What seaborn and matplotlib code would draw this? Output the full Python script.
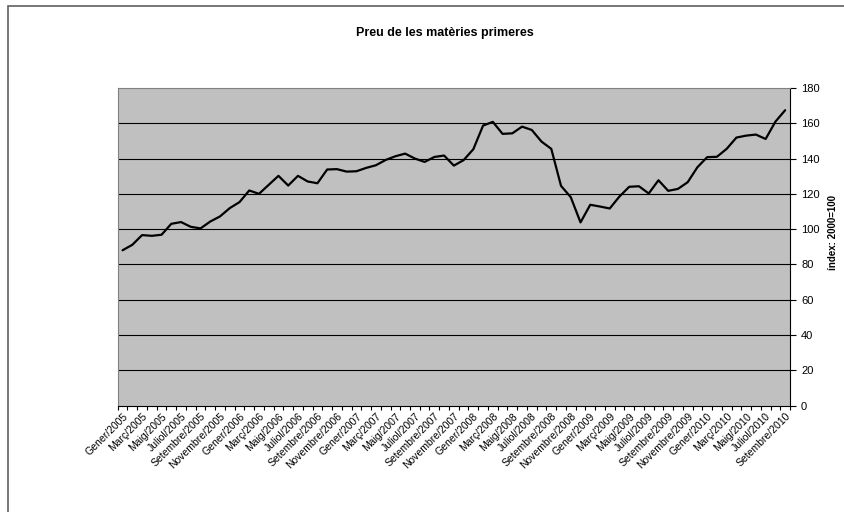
import matplotlib
matplotlib.use("Agg")
import matplotlib.pyplot as plt
import seaborn as sns
import pandas as pd
from matplotlib.patches import Rectangle

month_names = ["Gener", "Febrer", "Març", "Abril", "Maig", "Juny", "Juliol",
               "Agost", "Setembre", "Octubre", "Novembre", "Desembre"]
years = [2005, 2006, 2007, 2008, 2009, 2010]
values = [88.0, 91.1, 96.6, 96.2, 96.8, 103.0, 104.0, 101.3, 100.4, 104.3, 107.2, 111.9,
          115.3, 121.9, 120.0, 125.1, 130.2, 124.7, 130.2, 127.0, 126.0, 133.8, 134.0, 132.6,
          132.8, 134.7, 136.2, 139.2, 141.3, 142.8, 140.0, 138.1, 140.9, 141.7, 136.0, 139.1,
          145.3, 158.7, 160.8, 154.0, 154.3, 158.1, 156.2, 149.6, 145.5, 124.5, 118.1, 103.8,
          113.8, 112.8, 111.7, 118.5, 124.0, 124.3, 120.2, 127.7, 121.7, 122.8, 126.6, 135.1,
          140.8, 141.0, 145.5, 151.9, 153.0, 153.6, 151.1, 160.9, 167.4]
y_ticks = [0, 20, 40, 60, 80, 100, 120, 140, 160, 180]
title = "Preu de les matèries primeres"
y_label = "índex: 2000=100"

labels = [f"{m}/{y}" for y in years for m in month_names][:len(values)]
df = pd.DataFrame({"idx": range(len(values)), "label": labels, "value": values})

sns.set_theme(style="white")
plt.rcParams['font.family'] = ['Liberation Sans', 'DejaVu Sans']
plt.rcParams['text.color'] = 'black'
plt.rcParams['axes.labelcolor'] = 'black'
plt.rcParams['xtick.color'] = 'black'
plt.rcParams['ytick.color'] = 'black'

fig = plt.figure(figsize=(8.45, 5.12), dpi=100)
ax = fig.add_axes([117.7 / 845, 1 - 405.5 / 512, (790 - 117.7) / 845, (405.5 - 88) / 512])
ax.set_facecolor("#C0C0C0")

sns.lineplot(data=df, x="idx", y="value", ax=ax, color="black", linewidth=1.6)

n = len(values)
ax.set_xlim(-0.5, n - 0.5)
ax.set_ylim(0, 180)
ax.set_yticks(y_ticks)
ax.yaxis.tick_right()
ax.yaxis.set_label_position("right")
for yv in y_ticks[1:-1]:
    ax.axhline(yv, color="black", linewidth=0.8, zorder=1)

major = list(range(0, n, 2))
ax.set_xticks(major)
ax.set_xticklabels([labels[i] for i in major], rotation=45, ha="right",
                   rotation_mode="anchor", fontsize=7.5)
ax.set_xticks([i - 0.5 for i in range(n + 1)], minor=True)
ax.tick_params(axis="x", which="major", length=0, pad=4)
ax.tick_params(axis="x", which="minor", length=3, width=0.8, color="black", bottom=True)
ax.tick_params(axis="y", which="major", length=4, width=0.8, color="black", right=True,
               left=False, labelsize=8, pad=4)
ax.set_xlabel("")
ax.set_ylabel(y_label, fontsize=7, fontweight="bold")
ax.yaxis.set_label_coords((833 - 117.7) / 672.3, (405.5 - 232) / 317.5)
ax.yaxis.label.set_verticalalignment("center")

for s in ["left", "top"]:
    ax.spines[s].set_color("#808080")
    ax.spines[s].set_linewidth(0.8)
for s in ["right", "bottom"]:
    ax.spines[s].set_color("black")
    ax.spines[s].set_linewidth(0.8)

fig.text(445 / 845, 1 - 33 / 512, title, ha="center", va="center",
         fontsize=9, fontweight="bold")

fig.patches.append(Rectangle((8 / 845, -0.1), 1.2, 1 - 6 / 512 + 0.1,
                             transform=fig.transFigure, fill=False,
                             edgecolor="#606060", linewidth=1.2))

fig.savefig("out.png", dpi=100)
